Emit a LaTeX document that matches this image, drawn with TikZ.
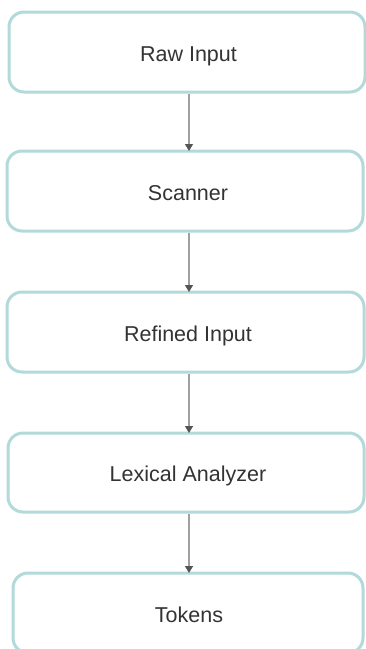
\documentclass[tikz,border=0pt]{standalone}
\usepackage{fontspec}
\setmainfont{Liberation Sans}
\usetikzlibrary{arrows.meta}
\definecolor{boxedge}{RGB}{178,218,218}
\definecolor{txt}{RGB}{51,51,51}
\definecolor{linkgray}{RGB}{160,160,160}
\definecolor{tipgray}{RGB}{85,85,85}
\tikzset{
  stagebox/.style={draw=boxedge, line width=3pt, rounded corners=15pt,
    fill=white, minimum height=80pt, text=txt,
    font=\fontsize{21.5}{25}\selectfont, inner sep=0pt,
    text height=18pt, text depth=0pt},
  flow/.style={draw=linkgray, line width=1.4pt,
    -{Triangle[width=8pt,length=7pt,color=tipgray]}}
}
\begin{document}
\begin{tikzpicture}[x=1pt,y=-1pt]
  \useasboundingbox (0,0) rectangle (366,649);
  \clip (0,0) rectangle (366,649);
  \coordinate (ax) at (189,0);
  \node[stagebox, minimum width=356pt] (raw) at (187,52) {\hspace*{3pt}Raw Input};
  \node[stagebox, minimum width=356pt] (scan) at (185,191) {\hspace*{6pt}Scanner};
  \node[stagebox, minimum width=357pt] (ref) at (185.5,332) {\hspace*{5pt}Refined Input};
  \node[stagebox, minimum width=356pt, minimum height=79pt] (lex) at (186,472.5) {\hspace*{4pt}Lexical Analyzer};
  \node[stagebox, minimum width=350pt] (tok) at (188,613) {\hspace*{2pt}Tokens};
  \draw[flow] (raw.south -| ax) -- ([yshift=-1.5pt]scan.north -| ax);
  \draw[flow] (scan.south -| ax) -- ([yshift=-1.5pt]ref.north -| ax);
  \draw[flow] (ref.south -| ax) -- ([yshift=-1.5pt]lex.north -| ax);
  \draw[flow] (lex.south -| ax) -- ([yshift=-1.5pt]tok.north -| ax);
\end{tikzpicture}
\end{document}
